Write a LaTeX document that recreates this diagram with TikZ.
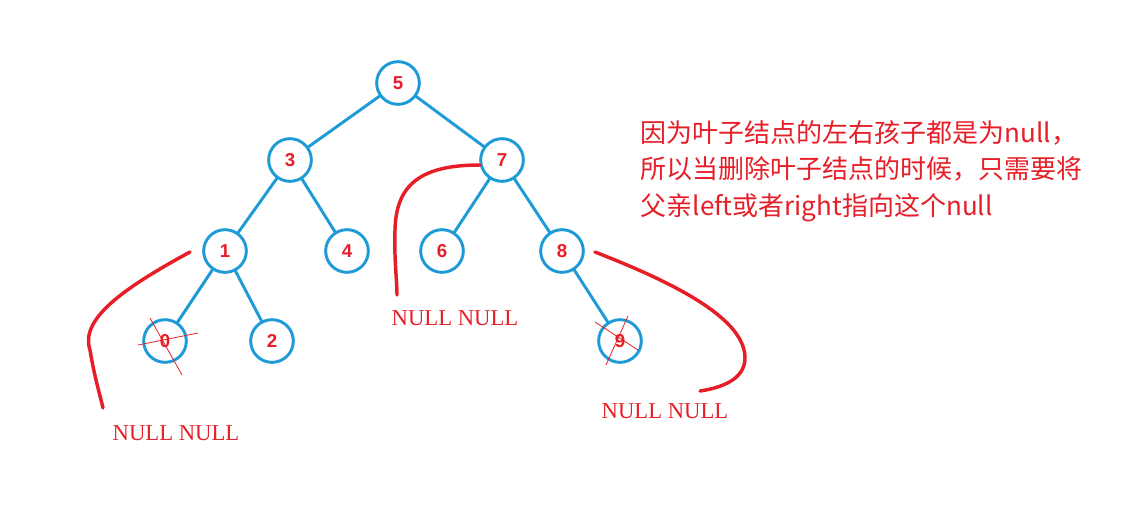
\documentclass[tikz,border=0pt]{standalone}
\usepackage{fontspec}
\newfontfamily\cjk{Noto Sans CJK SC}
\newfontfamily\digitfont{Liberation Sans}
\setmainfont{Liberation Serif}
\usetikzlibrary{positioning}
\definecolor{treeblue}{RGB}{30,155,215}
\definecolor{notered}{RGB}{230,30,40}
\tikzset{
  treenode/.style={circle,draw=treeblue,line width=2.2pt,fill=white,minimum size=32pt,inner sep=0pt,
    text=notered,font=\digitfont\bfseries\fontsize{14}{14}\selectfont},
  edge/.style={treeblue,line width=2.2pt},
  handmark/.style={notered,line width=2.6pt,line cap=round},
  nulltext/.style={text=notered,font=\fontsize{17}{17}\selectfont},
  crossline/.style={notered,line width=0.6pt}
}
\begin{document}
\begin{tikzpicture}[x=0.75pt,y=0.75pt,yscale=-1,xscale=1]
\useasboundingbox (0,0) rectangle (1129,526);

% edges
\draw [edge] (398,83) -- (290,160);
\draw [edge] (398,83) -- (502,160);
\draw [edge] (290,160) -- (225,251);
\draw [edge] (290,160) -- (347,251);
\draw [edge] (502,160) -- (442,251);
\draw [edge] (502,160) -- (562,251);
\draw [edge] (225,251) -- (165,341);
\draw [edge] (225,251) -- (272,341);
\draw [edge] (562,251) -- (620,341);

% Tree nodes
\node [treenode] (n5) at (398,83) {5};
\node [treenode] (n3) at (290,160) {3};
\node [treenode] (n7) at (502,160) {7};
\node [treenode] (n1) at (225,251) {1};
\node [treenode] (n4) at (347,251) {4};
\node [treenode] (n6) at (442,251) {6};
\node [treenode] (n8) at (562,251) {8};
\node [treenode] (n0) at (165,341) {0};
\node [treenode] (n2) at (272,341) {2};
\node [treenode] (n9) at (620,341) {9};

% crosses on leaves
\draw [crossline] (150,318) -- (182,375);
\draw [crossline] (138,345) -- (198,333);
\draw [crossline] (628,316) -- (606,365);
\draw [crossline] (595,322) -- (638,350);

% red hand marks
\draw [handmark] (190,252) .. controls (120,290) and (80,320) .. (90,350) .. controls (94,375) and (100,395) .. (103,408);
\draw [handmark] (480,165) .. controls (420,165) and (396,185) .. (395,230) .. controls (394,260) and (397,280) .. (397,295);
\draw [handmark] (595,252) .. controls (680,285) and (745,320) .. (745,358) .. controls (745,380) and (720,388) .. (700,391);

% Text Node
\node [nulltext] (nullA) at (176,433) {NULL NULL};
\node [nulltext] (nullB) at (455,318) {NULL NULL};
\node [nulltext] (nullC) at (665,411) {NULL NULL};
\node [anchor=west,align=left,text=notered,font=\cjk\fontsize{19.5}{27.5}\selectfont] (note) at (636,171)
  {因为叶子结点的左右孩子都是为null，\\所以当删除叶子结点的时候，只需要将\\父亲left或者right指向这个null};
\end{tikzpicture}
\end{document}
